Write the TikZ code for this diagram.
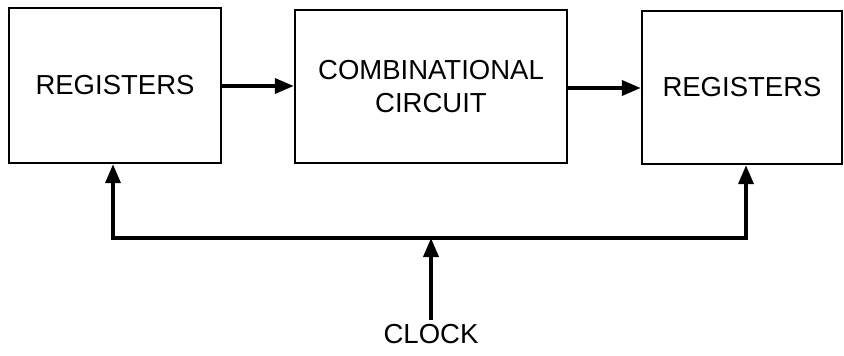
\documentclass[tikz,border=0pt]{standalone}
\usepackage{fontspec}
\setmainfont{Liberation Sans}
\usetikzlibrary{arrows.meta}
\begin{document}
\begin{tikzpicture}[x=1pt,y=-1pt,
  blk/.style={draw, line width=2.4pt, rectangle, inner sep=0pt, align=center,
              font=\fontsize{27.5}{33}\selectfont},
  arr/.style={line width=3.6pt, -{Triangle[length=19pt,width=15pt]}},
  bus/.style={line width=3.2pt},
  lbl/.style={font=\fontsize{27.5}{30}\selectfont, inner sep=4pt}]
\useasboundingbox (0,0) rectangle (844,356);
\node[blk, minimum width=212pt, minimum height=155pt] (L) at (115,85.5) {REGISTERS};
\node[blk, minimum width=272pt, minimum height=153pt] (M) at (431,86.5) {COMBINATIONAL\\CIRCUIT};
\node[blk, minimum width=200pt, minimum height=153pt] (R) at (742,87.5) {REGISTERS};
\node[lbl] (clk) at (431,334) {CLOCK};
\coordinate (bl) at (113,238);
\coordinate (br) at (746,238);
\coordinate (cj) at (431,238);
\coordinate (a1) at (221,86);
\coordinate (a2) at (567,88);
\draw[arr] (a1) -- (a1 -| M.west);
\draw[arr] (a2) -- (a2 -| R.west);
\draw[bus, line join=miter] (bl |- 0,200) -- (bl) -- (br) -- (br |- 0,200);
\draw[arr] (bl) -- (bl |- L.south);
\draw[arr] (br) -- (br |- R.south);
\draw[arr] (clk.north) -- (cj);
\end{tikzpicture}
\end{document}
